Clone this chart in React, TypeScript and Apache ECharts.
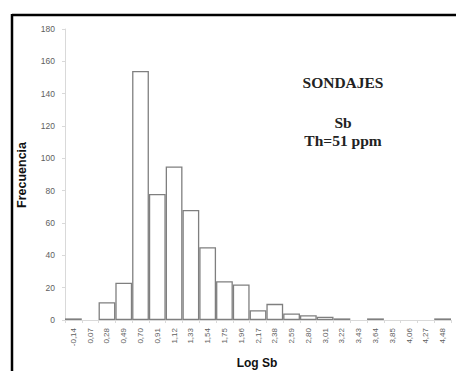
import React, { useEffect, useRef } from "react";
import * as echarts from "echarts";

const categories = ["-0,14", "0,07", "0,28", "0,49", "0,70", "0,91", "1,12", "1,33", "1,54", "1,75", "1,96", "2,17", "2,38", "2,59", "2,80", "3,01", "3,22", "3,43", "3,64", "3,85", "4,06", "4,27", "4,48"];
const frequencies = [1, 0, 11, 23, 154, 78, 95, 68, 45, 24, 22, 6, 10, 4, 3, 2, 1, 0, 1, 0, 0, 0, 1];
const titleLines = ["SONDAJES", "Sb", "Th=51 ppm"];
const xAxisName = "Log Sb";
const yAxisName = "Frecuencia";

export default function App() {
  const ref = useRef<HTMLDivElement>(null);
  useEffect(() => {
    if (!ref.current) return;
    const chart = echarts.init(ref.current, null, { renderer: "svg" });
    chart.setOption({
      animation: false,
      backgroundColor: "#ffffff",
      grid: { left: 65, right: 5, top: 29, bottom: 51 },
      xAxis: {
        type: "category",
        data: categories,
        boundaryGap: true,
        axisLine: { lineStyle: { color: "#d9d9d9", width: 1 } },
        axisTick: { show: true, length: 3, lineStyle: { color: "#d9d9d9" } },
        axisLabel: {
          rotate: 90,
          interval: 0,
          fontSize: 8,
          color: "#5e5e5e",
          fontFamily: "Liberation Sans",
          margin: 8,
        },
      },
      yAxis: {
        type: "value",
        min: 0,
        max: 180,
        interval: 20,
        splitLine: { show: false },
        axisLine: { show: true, lineStyle: { color: "#d9d9d9", width: 1 } },
        axisTick: { show: true, length: 3, lineStyle: { color: "#d9d9d9" } },
        axisLabel: { fontSize: 8.5, color: "#5e5e5e", fontFamily: "Liberation Sans", margin: 10 },
      },
      series: [
        {
          type: "bar",
          data: frequencies.map((v) => (v === 0 ? "-" : v)),
          barCategoryGap: "0%",
          itemStyle: { color: "#ffffff", borderColor: "#7f7f7f", borderWidth: 1.3 },
        },
      ],
      graphic: [
        { type: "line", shape: { x1: 12, y1: 15, x2: 456, y2: 15 }, style: { stroke: "#000", lineWidth: 2.5 } },
        { type: "line", shape: { x1: 12, y1: 14, x2: 12, y2: 371 }, style: { stroke: "#000", lineWidth: 2.5 } },
        {
          type: "text",
          x: 343,
          y: 82,
          style: { text: titleLines[0], font: "bold 15.5px 'Liberation Serif'", fill: "#222", align: "center", verticalAlign: "middle" },
        },
        {
          type: "text",
          x: 343,
          y: 122,
          style: { text: titleLines[1], font: "bold 15.5px 'Liberation Serif'", fill: "#222", align: "center", verticalAlign: "middle" },
        },
        {
          type: "text",
          x: 343,
          y: 140,
          style: { text: titleLines[2], font: "bold 15.5px 'Liberation Serif'", fill: "#222", align: "center", verticalAlign: "middle" },
        },
        {
          type: "text",
          x: 22,
          y: 175,
          rotation: Math.PI / 2,
          style: { text: yAxisName, font: "bold 12.5px 'Liberation Sans'", fill: "#111", align: "center", verticalAlign: "middle" },
        },
        {
          type: "text",
          x: 257,
          y: 363,
          style: { text: xAxisName, font: "bold 12px 'Liberation Sans'", fill: "#111", align: "center", verticalAlign: "middle" },
        },
      ],
    });
    return () => chart.dispose();
  }, []);
  return <div ref={ref} style={{ position: "fixed", left: 0, top: 0, width: 456, height: 371 }} />;
}
